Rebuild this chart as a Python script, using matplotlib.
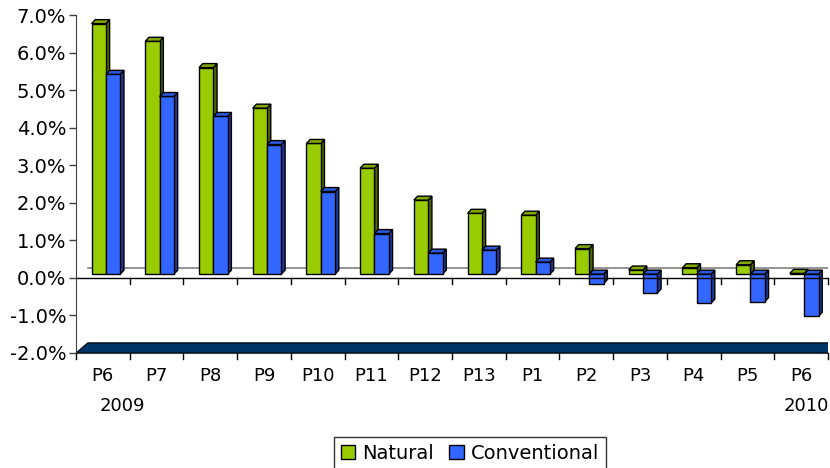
import matplotlib.pyplot as plt
from matplotlib.patches import Polygon
from matplotlib.ticker import FuncFormatter
import numpy as np

periods = ["P6", "P7", "P8", "P9", "P10", "P11", "P12", "P13", "P1", "P2", "P3", "P4", "P5", "P6"]
years = ["2009", "2010"]
natural = [6.67, 6.2, 5.5, 4.42, 3.48, 2.82, 1.97, 1.62, 1.57, 0.68, 0.11, 0.17, 0.25, 0.02]
conventional = [5.32, 4.73, 4.2, 3.45, 2.2, 1.08, 0.56, 0.64, 0.32, -0.25, -0.5, -0.77, -0.73, -1.12]

green = "#99cc00"
green_side = "#4d6600"
green_top = "#80a800"
blue = "#3366ff"
blue_side = "#1f3a99"
blue_top = "#2b57d9"

plt.rcParams['font.family'] = ['DejaVu Sans']

fig = plt.figure(figsize=(8.3, 4.68), dpi=100)
ax = fig.add_axes([76/830, (468-353)/468, (828-76)/830, (353-15)/468])

n = len(periods)
x = np.arange(n)
w = 0.267
off = 0.29
base = 0.1   # front faces sit slightly above the axis line
dx, dy = 0.069, 0.106

ax.set_xlim(0, n)
ax.set_ylim(-2, 7)

# floor
ax.add_patch(Polygon([(0, -2), (0.22, -1.73), (n + 0.5, -1.73), (n + 0.5, -2)],
                     closed=True, facecolor="#003366", edgecolor="black", lw=0.8,
                     clip_on=True, zorder=1))
# back wall zero line
ax.plot([0.22, n], [0.27, 0.27], color="#808080", lw=1.2, zorder=1)


def draw_series(vals, left, front, side, top):
    vals = np.array(vals)
    bars = ax.bar(x + left, vals, width=w, bottom=base, align="edge",
                  color=front, edgecolor="black", lw=1.0, zorder=3)
    for xi, v in zip(x + left, vals):
        hi = base + max(v, 0)
        lo = base + min(v, 0)
        ax.add_patch(Polygon([(xi + w, lo), (xi + w + dx, lo + dy), (xi + w + dx, hi + dy), (xi + w, hi)],
                             closed=True, facecolor=side, edgecolor="black", lw=1.0, zorder=2.5))
        ax.add_patch(Polygon([(xi, hi), (xi + dx, hi + dy), (xi + w + dx, hi + dy), (xi + w, hi)],
                             closed=True, facecolor=top, edgecolor="black", lw=1.0, zorder=3.5))
    return bars


b1 = draw_series(natural, off, green, green_side, green_top)
b2 = draw_series(conventional, off + w, blue, blue_side, blue_top)

# category axis at zero
ax.axhline(0, color="black", lw=1.0, zorder=4)
for xi in range(1, n + 1):
    ax.plot([xi, xi], [0, -0.15], color="black", lw=1.0, zorder=4, clip_on=False)

ax.set_yticks(np.arange(-2, 7.01, 1))
ax.yaxis.set_major_formatter(FuncFormatter(lambda v, p: f"{v:.1f}%"))
ax.tick_params(axis="y", labelsize=14, length=5, width=1, color="#404040", pad=2)
ax.set_xticks(x + 0.5)
ax.set_xticklabels(periods, fontsize=13)
ax.tick_params(axis="x", length=0, pad=10)
for xi in range(0, n + 1):
    ax.plot([xi, xi], [-2, -2.15], color="black", lw=1.0, clip_on=False, zorder=4)

for s in ["top", "right"]:
    ax.spines[s].set_visible(False)
ax.spines["left"].set_color("#404040")
ax.spines["bottom"].set_color("#404040")

ax.text(0.87, -3.42, years[0], fontsize=13, ha="center", va="center")
ax.text(13.6, -3.42, years[1], fontsize=13, ha="center", va="center")

leg = fig.legend([b1, b2], ["Natural", "Conventional"], loc="upper center",
                 bbox_to_anchor=(0.566, 0.066), borderaxespad=0, ncol=2, fontsize=14,
                 frameon=True, fancybox=False, edgecolor="black", handlelength=0.75,
                 handleheight=0.75, handletextpad=0.35, columnspacing=0.8, borderpad=0.35)
leg.get_frame().set_linewidth(1.0)

fig.savefig("out.png", dpi=100)
